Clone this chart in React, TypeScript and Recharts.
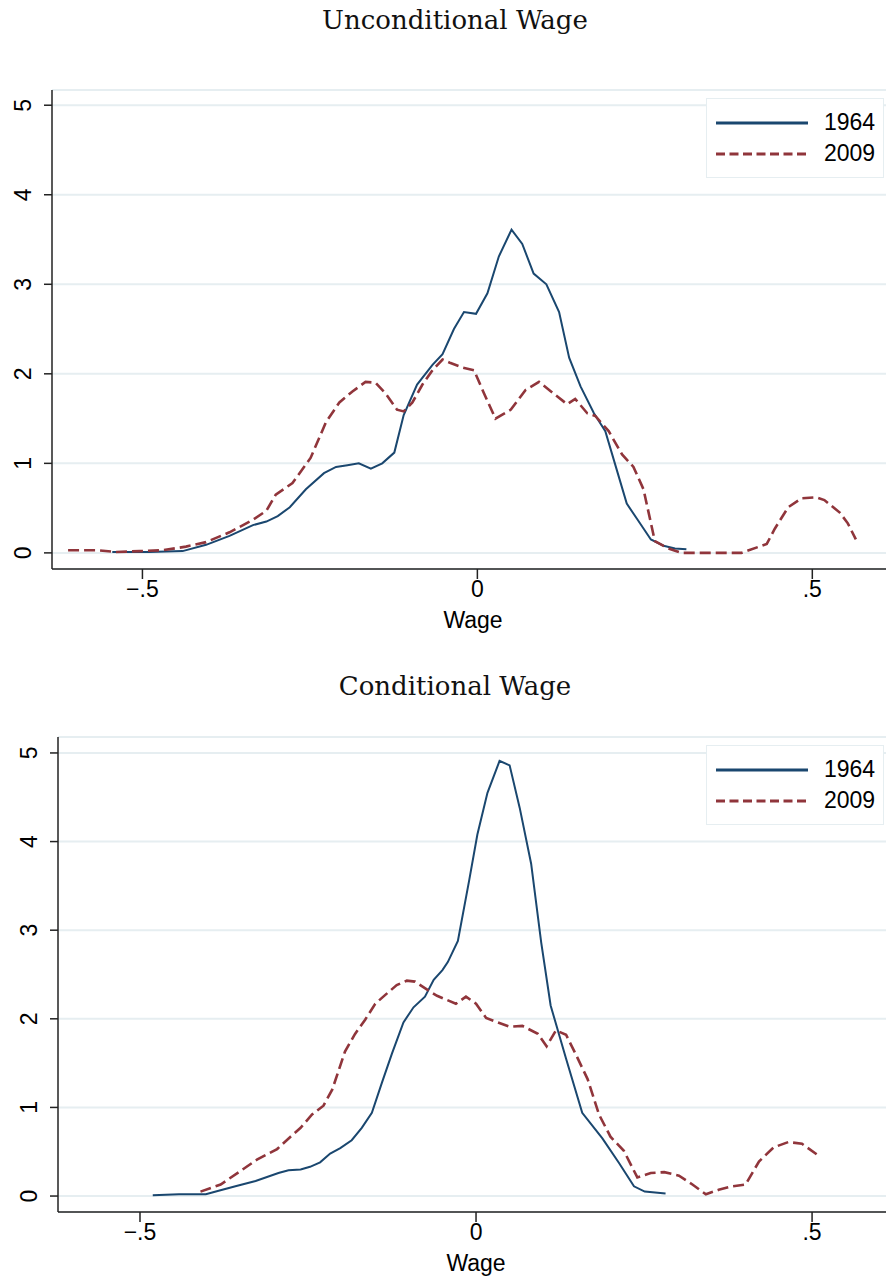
import React from "react";
import { LineChart, Line, XAxis, YAxis, CartesianGrid, Legend } from "recharts";

// wage values (log deviations) and kernel density estimates, by year

// Unconditional wage, 1964
const uWage1964 = [
  -0.545, -0.49, -0.44, -0.405, -0.37, -0.335, -0.315, -0.298, -0.28, -0.256, -0.229, -0.211,
  -0.194, -0.177, -0.159, -0.142, -0.124, -0.11, -0.09, -0.067, -0.052, -0.035, -0.02, -0.002,
  0.015, 0.032, 0.051, 0.067, 0.084, 0.103, 0.122, 0.137, 0.154, 0.174, 0.191, 0.206, 0.223,
  0.241, 0.259, 0.278, 0.295, 0.312,
];
const uDens1964 = [
  0.01, 0.01, 0.02, 0.09, 0.19, 0.31, 0.35, 0.41, 0.51, 0.71, 0.89, 0.96, 0.98, 1.0, 0.94, 1.0,
  1.12, 1.54, 1.88, 2.1, 2.22, 2.5, 2.69, 2.67, 2.9, 3.31, 3.61, 3.45, 3.12, 3.0, 2.69, 2.18,
  1.86, 1.56, 1.36, 0.98, 0.55, 0.35, 0.15, 0.08, 0.05, 0.04,
];

// Unconditional wage, 2009
const uWage2009 = [
  -0.611, -0.568, -0.539, -0.504, -0.469, -0.435, -0.405, -0.37, -0.335, -0.315, -0.301, -0.276,
  -0.249, -0.226, -0.206, -0.187, -0.167, -0.152, -0.137, -0.12, -0.11, -0.097, -0.082, -0.067,
  -0.052, -0.04, -0.022, -0.005, 0.01, 0.027, 0.05, 0.072, 0.092, 0.112, 0.134, 0.146, 0.164,
  0.176, 0.196, 0.216, 0.233, 0.248, 0.265, 0.285, 0.305, 0.345, 0.394, 0.432, 0.444, 0.464,
  0.484, 0.506, 0.518, 0.541, 0.553, 0.565,
];
const uDens2009 = [
  0.03, 0.03, 0.01, 0.02, 0.03, 0.07, 0.12, 0.23, 0.37, 0.47, 0.65, 0.78, 1.06, 1.46, 1.68, 1.8,
  1.91, 1.9, 1.78, 1.6, 1.58, 1.68, 1.88, 2.04, 2.16, 2.12, 2.07, 2.04, 1.78, 1.5, 1.6, 1.82,
  1.91, 1.79, 1.66, 1.72, 1.56, 1.53, 1.36, 1.1, 0.96, 0.71, 0.13, 0.05, 0.0, 0.0, 0.0, 0.1,
  0.27, 0.51, 0.61, 0.62, 0.59, 0.45, 0.33, 0.15,
];

// Conditional wage, 1964
const cWage1964 = [
  -0.481, -0.442, -0.402, -0.383, -0.358, -0.328, -0.294, -0.279, -0.261, -0.247, -0.232, -0.217,
  -0.202, -0.185, -0.17, -0.155, -0.14, -0.125, -0.108, -0.093, -0.076, -0.063, -0.05, -0.042,
  -0.027, -0.01, 0.002, 0.017, 0.035, 0.05, 0.065, 0.082, 0.097, 0.111, 0.134, 0.158, 0.188,
  0.213, 0.235, 0.251, 0.282,
];
const cDens1964 = [
  0.01, 0.02, 0.02, 0.06, 0.11, 0.17, 0.26, 0.29, 0.3, 0.33, 0.38, 0.48, 0.54, 0.63, 0.77, 0.94,
  1.28, 1.61, 1.96, 2.13, 2.25, 2.44, 2.55, 2.64, 2.88, 3.57, 4.08, 4.55, 4.91, 4.86, 4.38, 3.75,
  2.86, 2.15, 1.55, 0.94, 0.65, 0.37, 0.11, 0.05, 0.03,
];

// Conditional wage, 2009
const cWage2009 = [
  -0.41, -0.38, -0.353, -0.326, -0.296, -0.276, -0.261, -0.244, -0.227, -0.214, -0.195, -0.18,
  -0.165, -0.15, -0.135, -0.118, -0.103, -0.091, -0.071, -0.058, -0.03, -0.015, 0.0, 0.015,
  0.032, 0.05, 0.069, 0.092, 0.105, 0.119, 0.134, 0.149, 0.166, 0.183, 0.2, 0.22, 0.24, 0.26,
  0.28, 0.302, 0.322, 0.342, 0.361, 0.381, 0.401, 0.421, 0.443, 0.465, 0.485, 0.507,
];
const cDens2009 = [
  0.05, 0.13, 0.27, 0.41, 0.53, 0.67, 0.77, 0.92, 1.02, 1.2, 1.63, 1.83, 1.99, 2.17, 2.27, 2.38,
  2.43, 2.42, 2.32, 2.26, 2.17, 2.25, 2.17, 2.01, 1.96, 1.91, 1.92, 1.83, 1.69, 1.87, 1.82, 1.59,
  1.32, 0.92, 0.67, 0.51, 0.21, 0.26, 0.27, 0.23, 0.13, 0.02, 0.07, 0.11, 0.13, 0.39, 0.55, 0.61,
  0.59, 0.47,
];

const X_TICKS = [-0.5, 0, 0.5];
const Y_TICKS = [0, 1, 2, 3, 4, 5];
const YEARS = ["1964", "2009"];

const NAVY = "#1a476f";
const MAROON = "#90353b";
const GRID = "#e6eef1";
const AXIS = "#222";
const SANS = "'Liberation Sans', Arial, sans-serif";
const SERIF = "'DejaVu Serif', serif";
const FONT_SIZE = 23;
const LINE_DASH = "11 5";
const KEY_DASH = "9 4.5";

const zip = (xs: number[], ys: number[]) => xs.map((x, i) => ({ x, y: ys[i] }));

// Stata-style labels: "−.5", "0", ".5"
const fmtWage = (v: number) => {
  if (v === 0) return "0";
  const s = String(Math.abs(v)).replace(/^0/, "");
  return v < 0 ? `\u2212${s}` : s;
};

function VerticalTick(props: any) {
  const { x, y, payload } = props;
  const bx = x - 11;
  return (
    <text
      x={bx}
      y={y}
      transform={`rotate(-90, ${bx}, ${y})`}
      textAnchor="middle"
      fontFamily={SANS}
      fontSize={FONT_SIZE}
      fill="#000"
    >
      {payload.value}
    </text>
  );
}

function LegendBox() {
  return (
    <div
      style={{
        width: 178,
        height: 80,
        boxSizing: "border-box",
        border: `1.5px solid ${GRID}`,
        background: "#fff",
        paddingTop: 8,
        fontFamily: SANS,
        fontSize: FONT_SIZE,
        color: "#000",
      }}
    >
      {YEARS.map((yr, i) => (
        <div key={yr} style={{ display: "flex", alignItems: "center", height: 31 }}>
          <svg width={102} height={6} style={{ marginLeft: 9 }}>
            <line
              x1={0}
              x2={92}
              y1={3}
              y2={3}
              stroke={i === 0 ? NAVY : MAROON}
              strokeWidth={3}
              strokeDasharray={i === 0 ? undefined : KEY_DASH}
            />
          </svg>
          <span style={{ marginLeft: 6 }}>{yr}</span>
        </div>
      ))}
    </div>
  );
}

type PanelProps = {
  title: string;
  top: number;
  height: number;
  titleY: number;
  axisLeft: number;
  plotTop: number;
  plotBottom: number;
  xDomain: [number, number];
  yDomain: [number, number];
  legendTop: number;
  s1964: { x: number; y: number }[];
  s2009: { x: number; y: number }[];
};

function Panel(p: PanelProps) {
  const xAxisHeight = 64;
  return (
    <div style={{ position: "absolute", left: 0, top: p.top, width: 886, height: p.height }}>
      <div
        style={{
          position: "absolute",
          left: 155,
          width: 600,
          top: p.titleY - 16,
          lineHeight: "32px",
          textAlign: "center",
          fontFamily: SERIF,
          fontSize: 26,
          color: "#111",
        }}
      >
        {p.title}
      </div>
      <LineChart
        width={886}
        height={p.height}
        margin={{ top: p.plotTop, right: 0, left: 0, bottom: p.height - p.plotBottom - xAxisHeight }}
      >
        <CartesianGrid vertical={false} stroke={GRID} strokeWidth={2} />
        <XAxis
          type="number"
          dataKey="x"
          domain={p.xDomain}
          ticks={X_TICKS}
          tickFormatter={fmtWage}
          allowDataOverflow
          height={xAxisHeight}
          tickSize={10}
          tickMargin={2}
          stroke={AXIS}
          strokeWidth={1.5}
          tick={{ fill: "#000", fontSize: FONT_SIZE, fontFamily: SANS }}
          label={{ value: "Wage", position: "insideBottom", offset: 5, dx: 4, fill: "#000", fontSize: FONT_SIZE, fontFamily: SANS }}
        />
        <YAxis
          type="number"
          domain={p.yDomain}
          ticks={Y_TICKS}
          allowDataOverflow
          width={p.axisLeft}
          tickSize={8}
          stroke={AXIS}
          strokeWidth={1.5}
          tick={<VerticalTick />}
        />
        <Legend
          layout="vertical"
          align="center"
          verticalAlign="middle"
          content={() => <LegendBox />}
          wrapperStyle={{ left: 706, top: p.legendTop, width: 178, height: 80 }}
        />
        <Line
          data={p.s1964}
          dataKey="y"
          name="1964"
          type="linear"
          stroke={NAVY}
          strokeWidth={2}
          dot={false}
          isAnimationActive={false}
        />
        <Line
          data={p.s2009}
          dataKey="y"
          name="2009"
          type="linear"
          stroke={MAROON}
          strokeWidth={2.6}
          strokeDasharray={LINE_DASH}
          dot={false}
          isAnimationActive={false}
        />
      </LineChart>
    </div>
  );
}

export default function App() {
  return (
    <div style={{ position: "absolute", left: 0, top: 0, width: 886, height: 1278, background: "#fff" }}>
      <Panel
        title="Unconditional Wage"
        top={0}
        height={640}
        titleY={20}
        axisLeft={52}
        plotTop={90}
        plotBottom={569}
        xDomain={[-0.635, 0.61]}
        yDomain={[-0.18, 5.17]}
        legendTop={98}
        s1964={zip(uWage1964, uDens1964)}
        s2009={zip(uWage2009, uDens2009)}
      />
      <Panel
        title="Conditional Wage"
        top={640}
        height={638}
        titleY={46}
        axisLeft={58}
        plotTop={97}
        plotBottom={572}
        xDomain={[-0.622, 0.61]}
        yDomain={[-0.18, 5.18]}
        legendTop={105}
        s1964={zip(cWage1964, cDens1964)}
        s2009={zip(cWage2009, cDens2009)}
      />
    </div>
  );
}
